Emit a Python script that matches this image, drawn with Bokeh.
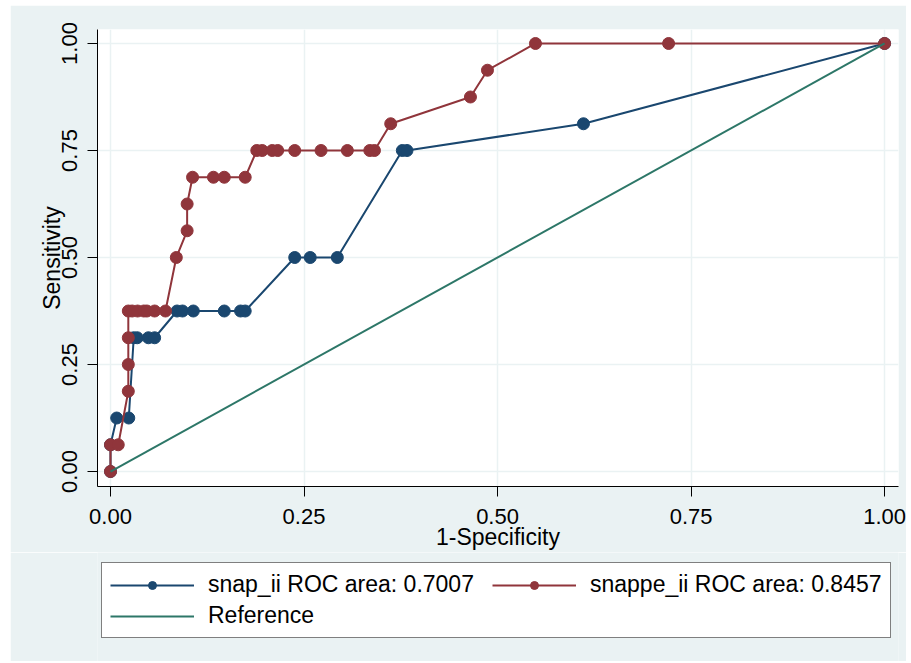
from bokeh.plotting import figure
from bokeh.layouts import column
from bokeh.models import Legend, LegendItem, FixedTicker, Range1d
from bokeh.embed import file_html
from bokeh.resources import INLINE

# ---- data ----
fpr_snap = [0, 0, 0.008, 0.0236, 0.030, 0.0345, 0.049, 0.057, 0.086, 0.093, 0.107,
            0.147, 0.168, 0.174, 0.238, 0.258, 0.293, 0.377, 0.383, 0.611, 1.0]
sens_snap = [0, 0.0625, 0.125, 0.125, 0.3125, 0.3125, 0.3125, 0.3125, 0.375, 0.375, 0.375,
             0.375, 0.375, 0.375, 0.5, 0.5, 0.5, 0.75, 0.75, 0.8125, 1.0]

fpr_snappe = [0, 0, 0.010, 0.023, 0.023, 0.023, 0.023, 0.028, 0.035, 0.043, 0.047, 0.057,
              0.071, 0.085, 0.099, 0.099, 0.106, 0.133, 0.147, 0.174, 0.189, 0.196, 0.209,
              0.216, 0.238, 0.272, 0.306, 0.335, 0.341, 0.362, 0.465, 0.487, 0.549, 0.721, 1.0]
sens_snappe = [0, 0.0625, 0.0625, 0.1875, 0.25, 0.3125, 0.375, 0.375, 0.375, 0.375, 0.375, 0.375,
               0.375, 0.5, 0.5625, 0.625, 0.6875, 0.6875, 0.6875, 0.6875, 0.75, 0.75, 0.75,
               0.75, 0.75, 0.75, 0.75, 0.75, 0.75, 0.8125, 0.875, 0.9375, 1.0, 1.0, 1.0]

ref_x = [0, 1]
ref_y = [0, 1]

ticks = [0, 0.25, 0.5, 0.75, 1.0]
tick_labels = ["0.00", "0.25", "0.50", "0.75", "1.00"]

labels = ["snap_ii ROC area: 0.7007", "snappe_ii ROC area: 0.8457", "Reference"]
colors = ["#1A476F", "#90353B", "#2D7768"]

FONT = "Liberation Sans"
BG = "#EAF2F3"
NAN = float("nan")

p = figure(frame_width=801, frame_height=457, output_backend="svg", toolbar_location=None,
           x_range=Range1d(-0.0168, 1.018), y_range=Range1d(-0.035, 1.0327),
           min_border_left=87, min_border_top=24, min_border_right=8, min_border_bottom=62,
           margin=(5, 0, 0, 10))

p.background_fill_color = "white"
p.border_fill_color = BG
p.outline_line_color = None

r1l = p.line(fpr_snap, sens_snap, line_color=colors[0], line_width=2)
r1s = p.scatter(fpr_snap, sens_snap, size=12, fill_color=colors[0], line_color=colors[0])
r2l = p.line(fpr_snappe, sens_snappe, line_color=colors[1], line_width=2)
r2s = p.scatter(fpr_snappe, sens_snappe, size=12, fill_color=colors[1], line_color=colors[1])
r3l = p.line(ref_x, ref_y, line_color=colors[2], line_width=2)

for ax in (p.xaxis[0], p.yaxis[0]):
    ax.ticker = FixedTicker(ticks=ticks)
    ax.major_label_overrides = {t: l for t, l in zip(ticks, tick_labels)}
    ax.minor_tick_line_color = None
    ax.major_tick_in = 0
    ax.major_tick_out = 10
    ax.axis_line_color = "black"
    ax.major_tick_line_color = "black"
    ax.major_label_text_font = FONT
    ax.major_label_text_font_size = "22px"
    ax.major_label_text_color = "black"
    ax.axis_label_text_font = FONT
    ax.axis_label_text_font_size = "23px"
    ax.axis_label_text_font_style = "normal"
    ax.axis_label_text_color = "black"

p.xaxis.axis_label = "1-Specificity"
p.yaxis.axis_label = "Sensitivity"
p.xaxis.major_label_standoff = 12
p.xaxis.axis_label_standoff = -3
p.yaxis.major_label_standoff = 10
p.yaxis.axis_label_standoff = -5
p.yaxis.major_label_orientation = "vertical"

p.xgrid.ticker = FixedTicker(ticks=ticks)
p.ygrid.ticker = FixedTicker(ticks=ticks)
p.grid.grid_line_color = BG
p.grid.grid_line_width = 1.5

# ---- legend panel (separate canvas below the chart; its frame aligns with the chart's) ----
q = figure(width=896, height=109, output_backend="svg", toolbar_location=None,
           x_range=Range1d(0, 1), y_range=Range1d(0, 1),
           x_axis_location=None, y_axis_location=None, min_border=0,
           margin=(0, 0, 0, 10))
q.background_fill_color = BG
q.border_fill_color = BG
q.outline_line_color = None
q.grid.visible = False

# legend-key proxies (no visible data)
k1l = q.line([NAN], [NAN], line_color=colors[0], line_width=2)
k1s = q.scatter([NAN], [NAN], size=12, fill_color=colors[0], line_color=colors[0])
k2l = q.line([NAN], [NAN], line_color=colors[1], line_width=2)
k2s = q.scatter([NAN], [NAN], size=12, fill_color=colors[1], line_color=colors[1])
k3l = q.line([NAN], [NAN], line_color=colors[2], line_width=2)

legend = Legend(items=[
    LegendItem(label=labels[0], renderers=[k1l, k1s]),
    LegendItem(label=labels[1], renderers=[k2l, k2s]),
    LegendItem(label=labels[2], renderers=[k3l]),
], orientation="horizontal", ncols=2, location=(4, 23))
legend.label_text_font = FONT
legend.label_text_font_size = "23px"
legend.label_text_color = "black"
legend.glyph_width = 84
legend.glyph_height = 20
legend.label_standoff = 14
legend.label_width = 280
legend.spacing = 4
legend.padding = 8
legend.margin = 0
legend.border_line_color = "black"
legend.border_line_width = 1
legend.background_fill_color = "white"
legend.background_fill_alpha = 1
q.add_layout(legend, "center")

layout = column(p, q, spacing=0)
open("out.html", "w").write(file_html(layout, INLINE))
